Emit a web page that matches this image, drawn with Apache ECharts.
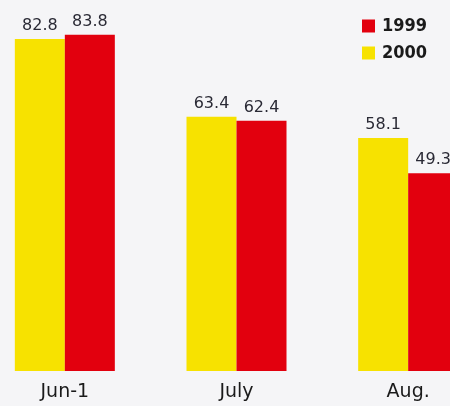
<!DOCTYPE html>
<html>
<head>
<meta charset="utf-8">
<script src="https://cdn.jsdelivr.net/npm/echarts@6/dist/echarts.min.js"></script>
<style>
  html, body { margin: 0; padding: 0; background: #f5f5f7; overflow: hidden; }
  #chart { width: 515px; height: 406px; margin-left: -21px; }
</style>
</head>
<body>
<div id="chart"></div>
<script>
const months = ["Jun-1", "July", "Aug."];
const values2000 = [82.8, 63.4, 58.1];
const values1999 = [83.8, 62.4, 49.3];

const chart = echarts.init(document.getElementById("chart"));

const labelStyle = {
  show: true,
  position: "top",
  distance: 5,
  color: "#2a2a35",
  fontFamily: "DejaVu Sans",
  fontSize: 16,
};

chart.setOption({
  backgroundColor: "#f5f5f7",
  animation: false,
  legend: {
    data: ["1999", "2000"],
    orient: "vertical",
    left: 378,
    top: 12,
    itemWidth: 13,
    itemHeight: 13,
    itemGap: 9,
    icon: "rect",
    textStyle: {
      fontFamily: "DejaVu Sans Condensed",
      fontWeight: "bold",
      fontSize: 18,
      color: "#1a1a1a",
      padding: [0, 0, 0, 2],
    },
  },
  grid: {
    left: 0,
    right: 0,
    top: 10,
    bottom: 35,
  },
  xAxis: {
    type: "category",
    data: months,
    axisLine: { show: false },
    axisTick: { show: false },
    axisLabel: {
      color: "#1a1a1a",
      fontFamily: "DejaVu Sans",
      fontSize: 19,
      margin: 12,
    },
  },
  yAxis: {
    type: "value",
    min: 0,
    max: 90,
    show: false,
    splitLine: { show: false },
  },
  series: [
    {
      name: "2000",
      type: "bar",
      data: values2000,
      barWidth: 50,
      barGap: "0%",
      itemStyle: { color: "#f7e200" },
      label: labelStyle,
    },
    {
      name: "1999",
      type: "bar",
      data: values1999,
      barWidth: 50,
      itemStyle: { color: "#e2000e" },
      label: labelStyle,
    },
  ],
});
</script>
</body>
</html>
